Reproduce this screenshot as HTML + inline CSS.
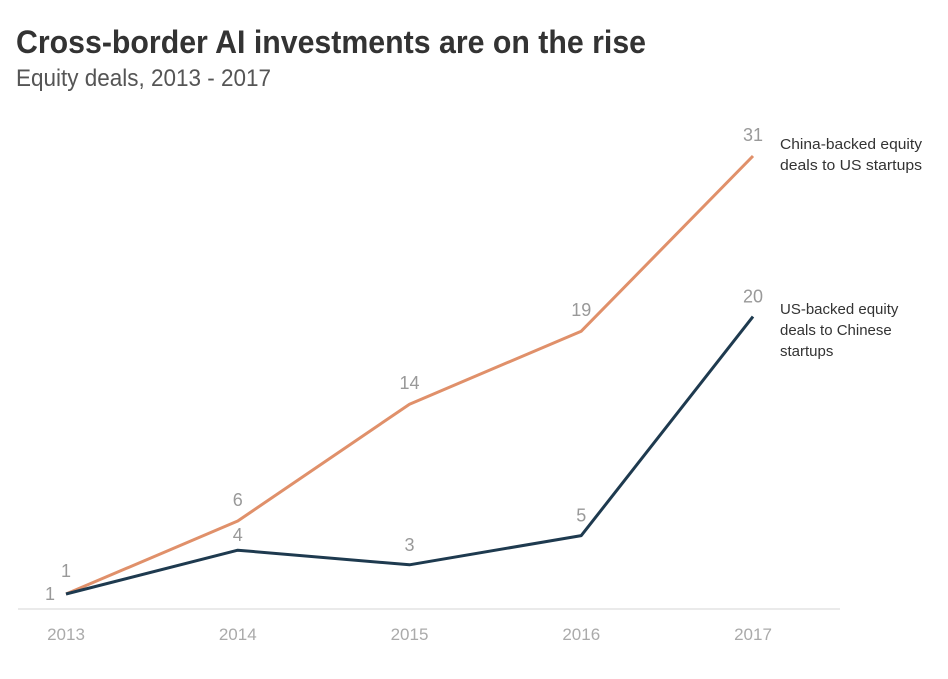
<!DOCTYPE html>
<html><head><meta charset="utf-8"><style>
body{margin:0;background:#fff;width:948px;height:679px;overflow:hidden;font-family:"Liberation Sans Narrow","Liberation Sans",sans-serif}
</style></head><body>
<svg id="c" width="948" height="679" style="position:absolute;left:0;top:0">
<text x="16" y="53" font-size="32" font-weight="bold" fill="#333" textLength="630" lengthAdjust="spacingAndGlyphs">Cross-border AI investments are on the rise</text>
<text x="16" y="86" font-size="24" fill="#555" textLength="255" lengthAdjust="spacingAndGlyphs">Equity deals, 2013 - 2017</text>
<line x1="18" y1="609" x2="840" y2="609" stroke="#e3e3e3" stroke-width="1.5"/>
<g id="marks"></g>
<g font-size="15" fill="#333">
<text x="780" y="149" textLength="142" lengthAdjust="spacingAndGlyphs">China-backed equity</text><text x="780" y="170" textLength="142" lengthAdjust="spacingAndGlyphs">deals to US startups</text></g>
<g font-size="15" fill="#333">
<text x="780" y="314">US-backed equity</text><text x="780" y="335">deals to Chinese</text><text x="780" y="356">startups</text></g>
</svg>
<script>
const years=["2013","2014","2015","2016","2017"];
const chinaDeals=[1,6,14,19,31];
const usDeals=[1,4,3,5,20];
const ns="http://www.w3.org/2000/svg";
const xS=i=>66+i*171.75;
const yS=v=>608.6-v*14.6;
const g=document.getElementById('marks');
function mk(t,a){const e=document.createElementNS(ns,t);for(const k in a)e.setAttribute(k,a[k]);g.appendChild(e);return e;}
years.forEach((y,i)=>{const t=mk('text',{x:xS(i),y:640,'text-anchor':'middle','font-size':'17',fill:'#aaa'});t.textContent=y;

});
function series(vals,color,name,offs){
 const p=mk('polyline',{points:vals.map((v,i)=>xS(i)+','+yS(v)).join(' '),fill:'none',stroke:color,'stroke-width':'3','stroke-linejoin':'round'});
 
 
 vals.forEach((v,i)=>{const o=offs[i];const t=mk('text',{x:xS(i)+o[0],y:yS(v)+o[1],'text-anchor':'middle','font-size':'18',fill:'#999'});t.textContent=v;
 
 });
}
series(chinaDeals,'#e0906a','china-backed',[[0,-17],[0,-15],[0,-15],[0,-15],[0,-15]]);
series(usDeals,'#1e3a4f','us-backed',[[-16,6],[0,-9],[0,-14],[0,-14],[0,-14]]);
</script>
</body></html>
